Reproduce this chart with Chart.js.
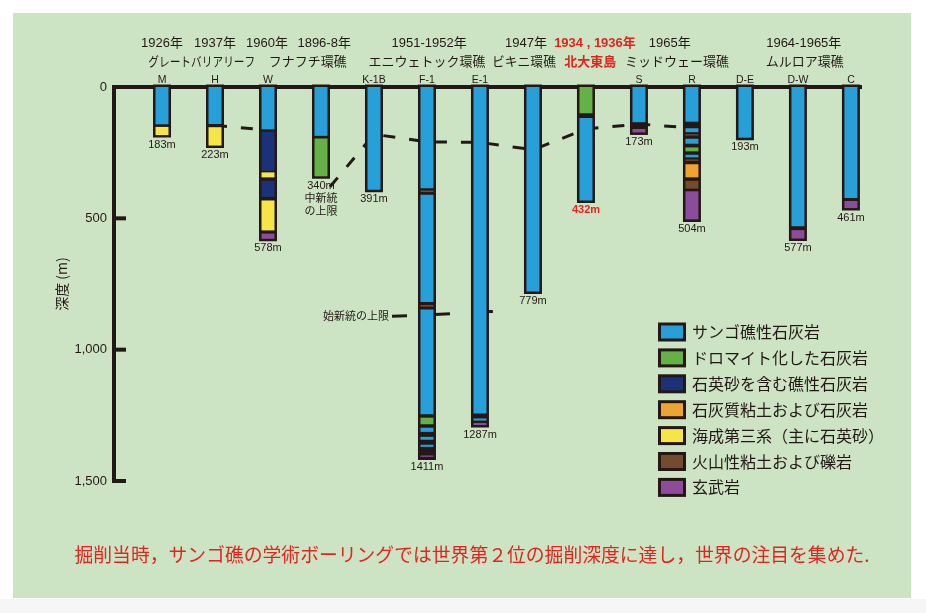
<!DOCTYPE html>
<html lang="ja">
<head>
<meta charset="utf-8">
<script src="https://cdn.jsdelivr.net/npm/chart.js@4.4.1/dist/chart.umd.min.js"></script>
<style>
  html, body { margin: 0; padding: 0; background: #fff; }
  #wrap { width: 926px; height: 613px; }
</style>
</head>
<body>
<div id="wrap"><canvas id="chart" width="926" height="613"></canvas></div>
<script>
// bore holes, left to right ('' = no code printed)
const holes = ['M', 'H', 'W', '', 'K-1B', 'F-1', 'E-1', '', '', 'S', 'R', 'D-E', 'D-W', 'C'];
const totalDepth = [183, 223, 578, 340, 391, 1411, 1287, 779, 432, 173, 504, 193, 577, 461];

const yearLabels = ['1926年', '1937年', '1960年', '1896-8年', '1951-1952年', '1947年', '1934 , 1936年', '1965年', '1964-1965年'];
const siteNames = ['グレートバリアリーフ', 'フナフチ環礁', 'エニウェトック環礁', 'ビキニ環礁', '北大東島', 'ミッドウェー環礁', 'ムルロア環礁'];

// layers: [hole index, top (m), bottom (m)]
const coralLimestone = [[0, 0, 142], [1, 0, 141], [2, 0, 161], [3, 0, 186], [4, 0, 391],
  [5, 0, 385], [5, 410, 819], [5, 847, 1246], [5, 1297, 1313], [5, 1332, 1343], [5, 1362, 1370],
  [6, 0, 1243], [6, 1262, 1270], [7, 0, 779], [8, 118, 432], [9, 0, 134],
  [10, 0, 132], [10, 157, 172], [10, 197, 216], [10, 258, 268], [11, 0, 193], [12, 0, 530], [13, 0, 423]];
const dolomite = [[3, 196, 340], [5, 1259, 1284], [8, 0, 100], [10, 230, 245]];
const quartzReef = [[2, 170, 319], [2, 357, 419]];
const calcClay = [[10, 294, 344]];
const marineTertiary = [[0, 152, 183], [1, 153, 223], [2, 325, 344], [2, 432, 546]];
const volcanic = [[5, 394, 400], [5, 830, 836], [10, 180, 185], [10, 276, 281], [10, 357, 387]];
const basalt = [[2, 558, 578], [5, 1403, 1408], [6, 1279, 1287], [9, 160, 173], [10, 397, 504], [12, 545, 577], [13, 434, 461]];

const lithology = ['サンゴ礁性石灰岩', 'ドロマイト化した石灰岩', '石英砂を含む礁性石灰岩', '石灰質粘土および石灰岩',
  '海成第三系（主に石英砂）', '火山性粘土および礫岩', '玄武岩'];
const lithColors = ['#27a0da', '#64b245', '#1b3278', '#eea332', '#f6e547', '#734b2d', '#8c4b9b'];

// boundary lines: [hole position, depth (m)]
const mioceneA = [[1, 146], [2, 164]];
const mioceneB = [[3.17, 380], [4, 180], [5, 209], [6, 211], [7, 239], [8, 160], [9, 141], [10, 156]];
const eocene = [[4.34, 873], [5, 868], [6, 856], [6.38, 854]];

const FRAME = '#231815';
const RED = '#e0251f';
const JP = '"Noto Sans CJK JP"';

// label anchors in hole units
const yearAt = [0, 1, 1.98, 3.06, 5.04, 6.87, 8.17, 9.58, 12.11];
const nameAt = [0.75, 2.75, 5.0, 6.83, 8.08, 9.72, 12.13];
const nameMax = [107, 80, 117, 64, 52, 104, 78];

const layerSets = [coralLimestone, dolomite, quartzReef, calcClay, marineTertiary, volcanic, basalt];

const toBars = arr => arr.map(([i, a, b]) => ({ x: i, y: [a, b] }));
const toLine = arr => arr.map(([x, y]) => ({ x, y }));

const lineSet = (arr, dash) => ({
  type: 'line', data: toLine(arr), borderColor: FRAME, borderWidth: 3,
  borderDash: dash, pointRadius: 0, tension: 0, order: 3, clip: false
});

const overlay = {
  id: 'overlay',
  beforeDraw(chart) {
    const ctx = chart.ctx;
    ctx.save();
    ctx.fillStyle = '#fff';
    ctx.fillRect(0, 0, chart.width, chart.height);
    ctx.fillStyle = '#f6f6f6';
    ctx.fillRect(0, 599, chart.width, chart.height - 599);
    ctx.fillStyle = '#cde4c4';
    ctx.fillRect(13, 13, 898, 585);
    ctx.restore();
  },
  afterDraw(chart) {
    const ctx = chart.ctx;
    const xs = chart.scales.x, ys = chart.scales.y;
    const px = v => xs.getPixelForValue(v);
    const py = v => ys.getPixelForValue(v);
    ctx.save();
    ctx.textAlign = 'center';
    ctx.textBaseline = 'middle';

    // depth ticks pointing inward
    ctx.fillStyle = FRAME;
    [500, 1000, 1500].forEach(v => ctx.fillRect(chart.chartArea.left - 2, py(v) - 2, 14, 4));

    // years
    yearLabels.forEach((t, k) => {
      const red = t.startsWith('1934');
      ctx.fillStyle = red ? RED : FRAME;
      ctx.font = (red ? 'bold ' : '') + '13px "Liberation Sans", ' + JP;
      ctx.fillText(t, px(yearAt[k]), 43);
    });
    // site names
    siteNames.forEach((t, k) => {
      const red = t === '北大東島';
      ctx.fillStyle = red ? RED : FRAME;
      ctx.font = (red ? 'bold ' : '') + '13px ' + JP;
      ctx.fillText(t, px(nameAt[k]), 61, nameMax[k]);
    });
    // hole codes
    ctx.fillStyle = FRAME;
    ctx.font = '10.5px "Liberation Sans"';
    holes.forEach((h, i) => { if (h) ctx.fillText(h, px(i), 80); });

    // depth labels under each hole
    ctx.textBaseline = 'top';
    totalDepth.forEach((d, i) => {
      ctx.fillStyle = i === 8 ? RED : FRAME;
      ctx.font = (i === 8 ? 'bold ' : '') + '11px "Liberation Sans"';
      ctx.fillText(d + 'm', px(i), py(d) + 4);
    });
    ctx.fillStyle = FRAME;
    ctx.font = '11px ' + JP;
    ctx.fillText('中新統', px(3), py(340) + 16.5);
    ctx.fillText('の上限', px(3), py(340) + 29);

    ctx.textBaseline = 'middle';
    ctx.textAlign = 'right';
    ctx.fillText('始新統の上限', px(eocene[0][0]) - 3, py(eocene[0][1]));

    // legend
    ctx.textAlign = 'left';
    ctx.font = '16px ' + JP;
    lithology.forEach((t, k) => {
      const cy = 332 + k * 25.9;
      ctx.fillStyle = FRAME;
      ctx.fillRect(658, cy - 9.5, 28, 19);
      ctx.fillStyle = lithColors[k];
      ctx.fillRect(661, cy - 6.5, 22, 13);
      ctx.fillStyle = FRAME;
      ctx.fillText(t, 692, cy);
    });

    // note
    ctx.textAlign = 'center';
    ctx.fillStyle = RED;
    ctx.font = '19px ' + JP;
    ctx.fillText('掘削当時，サンゴ礁の学術ボーリングでは世界第２位の掘削深度に達し，世界の注目を集めた.', 472, 555, 795);
    ctx.restore();
  }
};

new Chart(document.getElementById('chart'), {
  type: 'bar',
  data: {
    datasets: [
      ...layerSets.map((arr, k) => ({
        label: lithology[k], data: toBars(arr), backgroundColor: lithColors[k],
        barThickness: 13, grouped: false, inflateAmount: 0, borderWidth: 0, order: 1
      })),
      {
        label: 'frame', data: totalDepth.map((d, i) => ({ x: i, y: [0, d] })),
        backgroundColor: FRAME, barThickness: 13, inflateAmount: 2.5, grouped: false,
        borderWidth: 0, order: 2, clip: false
      },
      lineSet(mioceneA, [12, 14]),
      lineSet(mioceneB, [12, 14]),
      lineSet(eocene, [15, 28])
    ]
  },
  options: {
    responsive: false,
    animation: false,
    events: [],
    locale: 'en-US',
    layout: { padding: { left: 0, top: 87, right: 65, bottom: 132 } },
    plugins: { legend: { display: false }, tooltip: { enabled: false } },
    scales: {
      x: {
        type: 'linear', position: 'top', min: -0.906, max: 13.19, offset: false, z: 1,
        afterFit: s => { s.height = 0; },
        grid: { display: false, drawTicks: false },
        border: { display: true, color: FRAME, width: 4 },
        ticks: { display: false }
      },
      y: {
        type: 'linear', reverse: true, min: 0, max: 1500, position: 'left', z: 1,
        afterFit: s => { s.width = 114; },
        grid: { display: false, drawTicks: false },
        border: { display: true, color: FRAME, width: 4 },
        ticks: { stepSize: 500, padding: 7, color: FRAME, font: { family: 'Liberation Sans', size: 13 } },
        title: {
          display: true, text: '深度 (m)', color: FRAME,
          font: { family: 'Noto Sans CJK JP', size: 14 }, padding: { top: 53, bottom: 0 }
        }
      }
    }
  },
  plugins: [overlay]
});
</script>
</body>
</html>
